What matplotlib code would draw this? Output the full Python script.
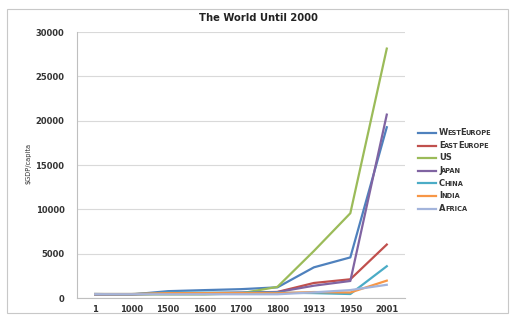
import matplotlib
matplotlib.use("Agg")
import matplotlib.pyplot as plt
from matplotlib.patches import Rectangle
from matplotlib.lines import Line2D
from itertools import groupby

years = ["1", "1000", "1500", "1600", "1700", "1800", "1913", "1950", "2001"]
west_europe = [450, 400, 771, 889, 997, 1202, 3458, 4579, 19256]
east_europe = [400, 400, 496, 548, 606, 683, 1695, 2111, 6027]
us = [400, 400, 400, 400, 527, 1257, 5301, 9561, 28129]
japan = [400, 425, 500, 520, 570, 669, 1387, 1921, 20683]
china = [450, 450, 600, 600, 600, 600, 552, 448, 3583]
india = [450, 450, 550, 550, 550, 533, 673, 619, 1957]
africa = [430, 425, 414, 422, 421, 420, 637, 894, 1489]

series = [
    ("WestEurope", west_europe, "#4F81BD"),
    ("EastEurope", east_europe, "#C0504D"),
    ("US", us, "#9BBB59"),
    ("Japan", japan, "#8064A2"),
    ("China", china, "#4BACC6"),
    ("India", india, "#F79646"),
    ("Africa", africa, "#A3B4DB"),
]

W, H = 516, 326
fig = plt.figure(figsize=(W / 100, H / 100), dpi=100)
fig.patch.set_facecolor("white")

# outer chart frame
fig.patches.append(Rectangle((7 / W, 1 - 313 / H), 501 / W, 304 / H,
                             transform=fig.transFigure, fill=False,
                             edgecolor="#C8C8C8", linewidth=0.8))

ax = fig.add_axes([77 / W, 28 / H, 328 / W, 266 / H])
x = list(range(len(years)))
for name, vals, col in series:
    ax.plot(x, vals, color=col, linewidth=1.6, solid_joinstyle="round")

ax.set_xlim(-0.5, len(years) - 0.5)
ax.set_ylim(0, 30000)
ax.set_yticks(range(0, 30001, 5000))
ax.set_xticks(x)
ax.set_xticklabels(years)
ax.yaxis.grid(True, color="#D9D9D9", linewidth=0.8)
ax.set_axisbelow(True)
for s in ("top", "right"):
    ax.spines[s].set_visible(False)
for s in ("left", "bottom"):
    ax.spines[s].set_color("#BFBFBF")
    ax.spines[s].set_linewidth(0.8)
ax.tick_params(axis="both", length=0, labelsize=6, labelcolor="#333333")
ax.tick_params(axis="y", pad=9)
ax.tick_params(axis="x", pad=5)
for lab in ax.get_xticklabels() + ax.get_yticklabels():
    lab.set_fontweight("bold")

fig.text(258 / W, 1 - 18 / H, "The World Until 2000", ha="center",
         va="center", fontsize=7.2, fontweight="bold", color="#222222")
fig.text(28 / W, 1 - 163 / H, "$GDP/capita", rotation=90, ha="center",
         va="center", fontsize=4.8, color="#333333")

# legend with small-caps labels, laid out piece by piece in whole pixels
renderer = fig.canvas.get_renderer()
px = lambda px_x, px_y: (px_x / W, 1 - px_y / H)
row_y0, row_step = 133, 12.6
line_x0, line_x1, text_x0 = 418, 436, 439
for i, (name, vals, col) in enumerate(series):
    y = row_y0 + i * row_step
    fig.add_artist(Line2D([line_x0 / W, line_x1 / W], [1 - y / H] * 2,
                          transform=fig.transFigure, color=col,
                          linewidth=1.6))
    cur = text_x0
    for upper, run in groupby(name, key=str.isupper):
        txt = "".join(run).upper()
        t = fig.text(*px(cur, y + 2.3), txt, ha="left", va="baseline",
                     fontsize=6.0 if upper else 4.8, fontweight="bold",
                     color="#333333")
        cur = round(t.get_window_extent(renderer).x1) - 1

fig.savefig("out.png", dpi=100, facecolor="white")
